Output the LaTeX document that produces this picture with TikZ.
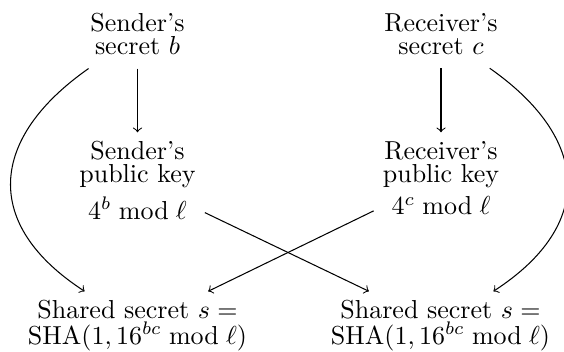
\documentclass[tikz,border=0pt]{standalone}
\usepackage{amssymb}
\usepackage{amsmath}

\begin{document}
\begin{tikzpicture}
  [x=0.3846pt,y=0.3846pt,auto=left,>=to,
   every node/.style={align=center,anchor=north,font=\fontsize{10pt}{8.8pt}\selectfont}]
  \useasboundingbox (0,0) rectangle (564,352);
  \node[inner ysep=5pt] (1) at (137.5,352) {Sender's\\secret $b$};
  \node[inner ysep=5pt] (2) at (441,352)   {Receiver's\\secret $c$};
  \node (3) at (137.5,219.7) {Sender's\\public key\\[2.5pt]$4^b \bmod \ell$};
  \node (4) at (441,219.7)   {Receiver's\\public key\\[2.5pt]$4^c \bmod \ell$};
  \node (5) at (137.5,60.7)  {Shared secret $s=$\\[1pt]SHA$(1,16^{bc} \bmod \ell)$};
  \node (6) at (440.5,60.7)  {Shared secret $s=$\\[1pt]SHA$(1,16^{bc} \bmod \ell)$};

  \foreach \from/\to in {1/3,2/4,3/6,4/5}
    \draw[->] (\from) -- (\to);
  \draw[->] (1) to[out=215,in=147,looseness=1.4] (5);
  \draw[->] (2) to[out=-35,in=33,looseness=1.4] (6);

\end{tikzpicture}
\end{document}
